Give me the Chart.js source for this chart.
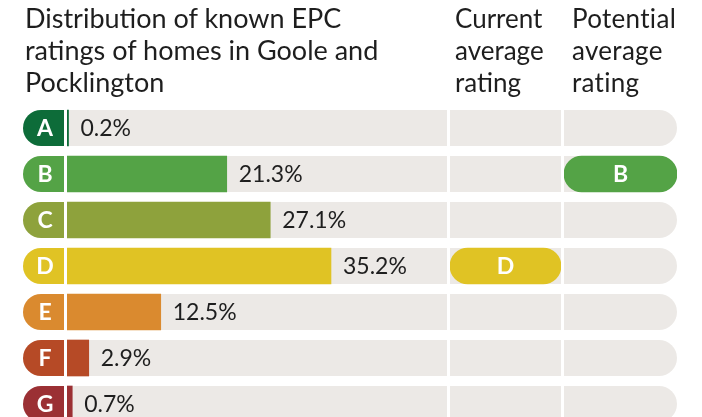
<!DOCTYPE html>
<html><head><meta charset="utf-8">
<script src="https://cdn.jsdelivr.net/npm/chart.js@4"></script>
<style>
html,body{margin:0;padding:0;background:#fff;overflow:hidden;width:702px;height:417px;}
#wrap{position:relative;width:702px;height:417px;overflow:hidden;}
.cv{position:absolute;top:0;height:427px;}
.hd{position:absolute;top:2px;font-family:Lato,"Noto Sans",sans-serif;font-size:26px;line-height:32px;color:#1e1e1e;white-space:pre;}
#h1{font-size:27px;}
</style></head><body>
<div id="wrap">
  <div class="cv" style="left:0;width:447px"><canvas id="c1"></canvas></div>
  <div class="cv" style="left:450px;width:111px"><canvas id="c2"></canvas></div>
  <div class="cv" style="left:564px;width:113px"><canvas id="c3"></canvas></div>
  <div class="hd" id="h1" style="left:25px"></div>
  <div class="hd" id="h2" style="left:455px"></div>
  <div class="hd" id="h3" style="left:572px;letter-spacing:0.3px"></div>
</div>
<script>
// ---- data ----
const categories = ['A','B','C','D','E','F','G'];
const shares = [0.2, 21.3, 27.1, 35.2, 12.5, 2.9, 0.7];
const currentRating = 'D';
const potentialRating = 'B';
const titleLines = ['Distribution of known EPC','ratings of homes in Goole and','Pocklington'];
const currentLines = ['Current','average','rating'];
const potentialLines = ['Potential','average','rating'];

// ---- styles ----
const colors = ['#0d6c39','#54a346','#8ea23c','#e0c324','#da8a2f','#b64a26','#9b3034'];
const TRACK = '#ece9e6';
const ROW_H = 36;
const FONT = 'Lato, "Noto Sans", sans-serif';
const TEXT = '#1e1e1e';

document.getElementById('h1').textContent = titleLines.join('\n');
document.getElementById('h2').textContent = currentLines.join('\n');
document.getElementById('h3').textContent = potentialLines.join('\n');

function trackPlugin(roundRight, badges){
  return {
    id:'track',
    beforeDatasetsDraw(chart){
      const {ctx, chartArea:{left,right}, scales:{y}} = chart;
      ctx.save();
      categories.forEach((c,i)=>{
        const yc = y.getPixelForValue(i);
        ctx.fillStyle = TRACK;
        ctx.beginPath();
        ctx.roundRect(left, yc-ROW_H/2, right-left, ROW_H, roundRight ? [0,ROW_H/2,ROW_H/2,0] : 0);
        ctx.fill();
        if (badges){
          ctx.fillStyle = colors[i];
          ctx.beginPath();
          ctx.roundRect(left-44, yc-ROW_H/2, 41, ROW_H, [ROW_H/2,0,0,ROW_H/2]);
          ctx.fill();
          ctx.fillStyle = '#fff';
          ctx.font = 'bold 23px ' + FONT;
          ctx.textAlign = 'center';
          ctx.textBaseline = 'middle';
          ctx.fillText(c, left-22, yc+1);
        }
      });
      ctx.restore();
    }
  };
}

const valueLabels = {
  id:'valueLabels',
  afterDatasetsDraw(chart){
    const {ctx} = chart;
    const meta = chart.getDatasetMeta(0);
    ctx.save();
    ctx.fillStyle = TEXT;
    ctx.font = '23px ' + FONT;
    ctx.textAlign = 'left';
    ctx.textBaseline = 'middle';
    meta.data.forEach((bar,i)=>{
      ctx.fillText(shares[i].toFixed(1) + '%', bar.x + 12, bar.y + 1);
    });
    ctx.restore();
  }
};

const pillLabels = {
  id:'pillLabels',
  afterDatasetsDraw(chart){
    const {ctx} = chart;
    const meta = chart.getDatasetMeta(0);
    ctx.save();
    ctx.fillStyle = '#fff';
    ctx.font = 'bold 23px ' + FONT;
    ctx.textAlign = 'center';
    ctx.textBaseline = 'middle';
    meta.data.forEach((bar,i)=>{
      const raw = chart.data.datasets[0].data[i];
      if (raw == null) return;
      ctx.fillText(categories[i], (bar.x + bar.base)/2, bar.y + 1);
    });
    ctx.restore();
  }
};

const commonScales = {
  y: {type:'category', labels: categories, display:false, offset:true, grid:{display:false}},
};

new Chart(document.getElementById('c1'), {
  type:'bar',
  data:{labels:categories, datasets:[{data:shares, backgroundColor:colors, barThickness:ROW_H, borderWidth:0}]},
  options:{
    indexAxis:'y', responsive:true, maintainAspectRatio:false, animation:false,
    layout:{padding:{left:67, top:105, right:0, bottom:0}},
    scales:{...commonScales, x:{type:'linear', min:0, max:50.67, display:false}},
    plugins:{legend:{display:false}, tooltip:{enabled:false}}
  },
  plugins:[trackPlugin(false,true), valueLabels]
});

function ratingChart(id, rating, roundRight){
  const idx = categories.indexOf(rating);
  const data = categories.map((c,i)=> i===idx ? [0,1] : null);
  new Chart(document.getElementById(id), {
    type:'bar',
    data:{labels:categories, datasets:[{data, backgroundColor:colors[idx], barThickness:ROW_H,
      borderWidth:0, borderRadius:ROW_H/2, borderSkipped:false}]},
    options:{
      indexAxis:'y', responsive:true, maintainAspectRatio:false, animation:false,
      layout:{padding:{left:0, top:105, right:0, bottom:0}},
      scales:{...commonScales, x:{type:'linear', min:0, max:1, display:false}},
      plugins:{legend:{display:false}, tooltip:{enabled:false}}
    },
    plugins:[trackPlugin(roundRight,false), pillLabels]
  });
}
ratingChart('c2', currentRating, false);
ratingChart('c3', potentialRating, true);
</script>
</body></html>
